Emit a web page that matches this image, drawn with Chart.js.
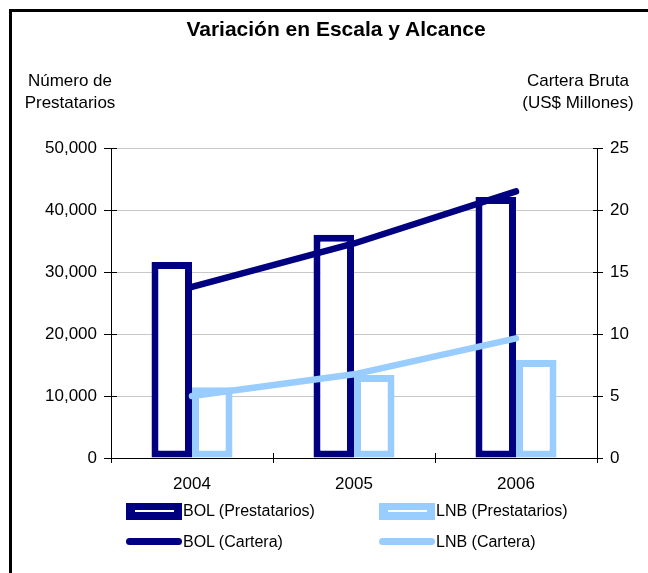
<!DOCTYPE html>
<html>
<head>
<meta charset="utf-8">
<script src="https://cdn.jsdelivr.net/npm/chart.js@4.4.1/dist/chart.umd.min.js"></script>
<style>
  html, body { margin: 0; padding: 0; background: #fff; }
  #wrap { position: relative; width: 648px; height: 573px; overflow: hidden; font-family: "Liberation Sans", Arial, sans-serif; color: #000; }
  #frame { position: absolute; left: 9px; top: 9px; width: 700px; height: 700px; border-left: 3px solid #000; border-top: 3px solid #000; }
  canvas { position: absolute; left: 0; top: 0; }
  .t { position: absolute; white-space: nowrap; }
  #title { left: 0; width: 672px; top: 17px; text-align: center; font-weight: bold; font-size: 21px; }
  #ytl { left: 0; width: 140px; top: 70px; text-align: center; font-size: 17px; line-height: 22px; }
  #ytr { left: 508px; width: 140px; top: 70px; text-align: center; font-size: 17px; line-height: 22px; }
  .leg { position: absolute; font-size: 16px; line-height: 18px; white-space: nowrap; }
  .sw { position: absolute; }
  .bar { width: 56px; height: 17px; }
  .bar i { position: absolute; left: 9px; right: 8px; top: 7.5px; height: 2px; background: #fff; }
  .ln { width: 56px; height: 7px; border-radius: 4px; }
</style>
</head>
<body>
<div id="wrap">
  <div id="frame"></div>
  <canvas id="c" width="648" height="573"></canvas>
  <div class="t" id="title">Variación en Escala y Alcance</div>
  <div class="t" id="ytl">Número de<br>Prestatarios</div>
  <div class="t" id="ytr">Cartera Bruta<br>(US$ Millones)</div>
  <div id="legend"></div>
</div>
<script>
// ---- data ----
const categories = ["2004", "2005", "2006"];
const bolPrestatarios = [31600, 36000, 42100];
const lnbPrestatarios = [11400, 13400, 15800];
const bolCartera = [13.8, 17.3, 21.5];
const lnbCartera = [5.0, 6.75, 9.65];
const leftTicks = [0, 10000, 20000, 30000, 40000, 50000];
const rightTicks = [0, 5, 10, 15, 20, 25];

const DARK = "#000080";
const LIGHT = "#99CCFF";
const FONT = "'Liberation Sans', Arial, sans-serif";

// inner halves of tick marks (crossing the axes)
const crossTicks = {
  id: "crossTicks",
  afterDraw(chart) {
    const ctx = chart.ctx, a = chart.chartArea;
    const y = chart.scales.y, y1 = chart.scales.y1;
    ctx.save();
    ctx.strokeStyle = "#000";
    ctx.lineWidth = 1;
    ctx.beginPath();
    leftTicks.forEach(v => { const p = Math.round(y.getPixelForValue(v)) + 0.5; ctx.moveTo(a.left, p); ctx.lineTo(a.left + 6, p); });
    rightTicks.forEach(v => { const p = Math.round(y1.getPixelForValue(v)) + 0.5; ctx.moveTo(a.right - 4, p); ctx.lineTo(a.right, p); });
    for (let i = 0; i <= categories.length; i++) {
      const p = Math.round(a.left + (a.right - a.left) * i / categories.length) + 0.5;
      ctx.moveTo(p, a.bottom); ctx.lineTo(p, a.bottom - 5);
    }
    ctx.stroke();
    ctx.restore();
  }
};

const barCommon = { type: "bar", yAxisID: "y", backgroundColor: "#fff", borderWidth: 7, borderSkipped: false, categoryPercentage: 0.5, barPercentage: 1.0, order: 2 };
const lineCommon = { type: "line", yAxisID: "y1", fill: false, borderWidth: 6.5, pointRadius: 0, tension: 0, borderCapStyle: "round", borderJoinStyle: "round", order: 1 };

new Chart(document.getElementById("c"), {
  data: {
    labels: categories,
    datasets: [
      Object.assign({}, barCommon, { label: "BOL (Prestatarios)", data: bolPrestatarios, borderColor: DARK }),
      Object.assign({}, barCommon, { label: "LNB (Prestatarios)", data: lnbPrestatarios, borderColor: LIGHT }),
      Object.assign({}, lineCommon, { label: "BOL (Cartera)", data: bolCartera, borderColor: DARK }),
      Object.assign({}, lineCommon, { label: "LNB (Cartera)", data: lnbCartera, borderColor: LIGHT })
    ]
  },
  options: {
    responsive: false,
    animation: false,
    layout: { padding: { top: 148, left: 0, right: 0, bottom: 0 } },
    plugins: { legend: { display: false }, title: { display: false }, tooltip: { enabled: false } },
    scales: {
      x: {
        offset: true,
        grid: { offset: true, drawOnChartArea: false, tickLength: 5, tickColor: "#000" },
        border: { color: "#000", width: 1 },
        ticks: { color: "#000", font: { family: FONT, size: 17 }, padding: 11 },
        afterFit(s) { s.height = 115; }
      },
      y: {
        position: "left", min: 0, max: 50000,
        afterBuildTicks(s) { s.ticks = leftTicks.map(v => ({ value: v })); },
        grid: { color: "#c8c8c8", tickColor: "#000", tickLength: 7 },
        border: { color: "#000", width: 1 },
        ticks: { color: "#000", font: { family: FONT, size: 17 }, padding: 7,
          callback: v => v.toLocaleString("en-US") },
        afterFit(s) { s.width = 111; }
      },
      y1: {
        position: "right", min: 0, max: 25,
        afterBuildTicks(s) { s.ticks = rightTicks.map(v => ({ value: v })); },
        grid: { drawOnChartArea: false, tickColor: "#000", tickLength: 6 },
        border: { color: "#000", width: 1 },
        ticks: { color: "#000", font: { family: FONT, size: 17 }, padding: 7 },
        afterFit(s) { s.width = 51; }
      }
    }
  },
  plugins: [crossTicks]
});

// ---- legend (HTML, two columns) ----
const legendItems = [
  { label: "BOL (Prestatarios)", color: DARK, kind: "bar", col: 0, row: 0 },
  { label: "LNB (Prestatarios)", color: LIGHT, kind: "bar", col: 1, row: 0 },
  { label: "BOL (Cartera)", color: DARK, kind: "ln", col: 0, row: 1 },
  { label: "LNB (Cartera)", color: LIGHT, kind: "ln", col: 1, row: 1 }
];
const legend = document.getElementById("legend");
const colX = [126, 379], rowY = [511, 541];
legendItems.forEach(it => {
  const sw = document.createElement("div");
  sw.className = "sw " + it.kind;
  sw.style.background = it.color;
  sw.style.left = colX[it.col] + "px";
  const h = it.kind === "bar" ? 17 : 7;
  sw.style.top = (rowY[it.row] - h / 2) + "px";
  if (it.kind === "bar") sw.appendChild(document.createElement("i"));
  legend.appendChild(sw);
  const tx = document.createElement("div");
  tx.className = "leg";
  tx.textContent = it.label;
  tx.style.left = (colX[it.col] + 57) + "px";
  tx.style.top = (rowY[it.row] - 9 + (it.row === 1 ? 1 : 0)) + "px";
  legend.appendChild(tx);
});
</script>
</body>
</html>
